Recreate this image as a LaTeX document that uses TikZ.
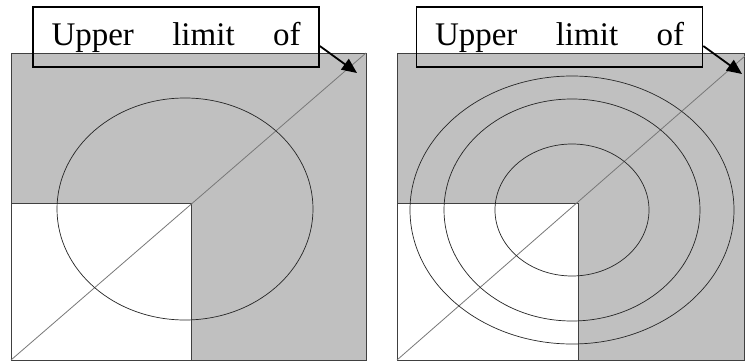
\documentclass[tikz,border=0pt]{standalone}
\usepackage{fontspec}
\setmainfont{Liberation Serif}
\usetikzlibrary{positioning,arrows.meta}
\definecolor{panelgray}{RGB}{192,192,192}
\definecolor{edgegray}{RGB}{64,64,64}
\definecolor{diaggray}{RGB}{120,120,120}
\tikzset{
  panel/.style={fill=panelgray, draw=edgegray, line width=0.8pt},
  corner/.style={fill=white, draw=edgegray, line width=0.9pt},
  diag/.style={draw=diaggray, line width=0.8pt},
  ring/.style={draw=black!85, line width=0.7pt},
  labelbox/.style={draw=black, line width=1.6pt, text width=249pt, inner xsep=18.5pt,
    minimum height=60pt, font=\fontsize{33}{36}\selectfont, align=justify},
  pointer/.style={draw=black, line width=1.8pt, -{Triangle[length=15pt,width=13pt]}}
}

\begin{document}
\begin{tikzpicture}[x=1pt,y=-1pt]
  \useasboundingbox (0,0) rectangle (745,361);

  % Left panel: one ellipse
  \draw[panel] (11,53) rectangle (366,360);
  \draw[corner] (11,203) rectangle (191,360);
  \draw[diag] (11,360) -- (366,53);
  \draw[ring] (185,209) ellipse [x radius=128, y radius=111];
  \node[labelbox] (capL) at (176,37) {Upper\hfill limit\hfill of};
  \coordinate (tipL) at (357,73);
  \draw[pointer] ([yshift=-9pt]capL.east) -- (tipL);

  % Right panel: three ellipses
  \draw[panel] (397,53) rectangle (744.5,360);
  \draw[corner] (397,203) rectangle (578,360);
  \draw[diag] (397,360) -- (745,56);
  \foreach \rx/\ry in {77/66, 128/111, 162/134}
    \draw[ring] (572,210) ellipse [x radius=\rx, y radius=\ry];
  \node[labelbox] (capR) at (559.5,37) {Upper\hfill limit\hfill of};
  \coordinate (tipR) at (742,74);
  \draw[pointer] ([yshift=-9pt]capR.east) -- (tipR);
\end{tikzpicture}
\end{document}
